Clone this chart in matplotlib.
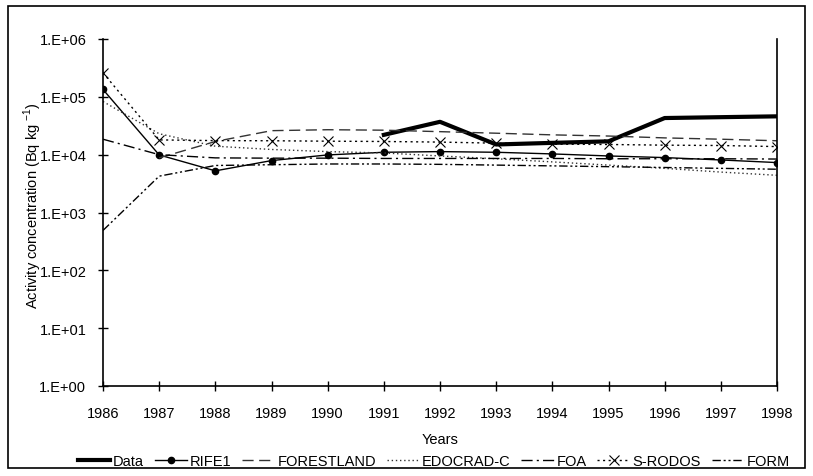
import numpy as np
import matplotlib
matplotlib.use("Agg")
import matplotlib.pyplot as plt
from matplotlib.patches import Rectangle
from matplotlib.ticker import FixedLocator, FuncFormatter, NullLocator

plt.rcParams['font.family'] = ['Liberation Sans', 'DejaVu Sans']
plt.rcParams['mathtext.fontset'] = 'custom'
plt.rcParams['mathtext.rm'] = 'Liberation Sans'

years = list(range(1986, 1999))
nan = np.nan

# activity concentration, Bq/kg
data = [nan, nan, nan, nan, nan, 2.2e4, 3.7e4, 1.5e4, 1.6e4, 1.7e4, 4.3e4, 4.45e4, 4.6e4]
rife1 = [1.34e5, 9.9e3, 5.25e3, 7.9e3, 9.9e3, 1.1e4, 1.13e4, 1.1e4, 1.03e4, 9.5e3, 8.9e3, 8.1e3, 7.3e3]
forestland = [nan, 8.8e3, 1.69e4, 2.6e4, 2.7e4, 2.65e4, 2.5e4, 2.35e4, 2.2e4, 2.1e4, 1.95e4, 1.85e4, 1.74e4]
edocrad = [8.3e4, 2.3e4, 1.4e4, 1.23e4, 1.13e4, 1.07e4, 9.5e3, 8.5e3, 7.5e3, 6.6e3, 5.8e3, 5.0e3, 4.4e3]
foa = [1.85e4, 1.0e4, 8.8e3, 8.7e3, 8.7e3, 8.6e3, 8.6e3, 8.6e3, 8.6e3, 8.5e3, 8.5e3, 8.5e3, 8.4e3]
srodos = [2.6e5, 1.8e4, 1.75e4, 1.74e4, 1.71e4, 1.69e4, 1.65e4, 1.58e4, 1.52e4, 1.5e4, 1.46e4, 1.44e4, 1.38e4]
form = [4.9e2, 4.25e3, 6.5e3, 6.7e3, 6.9e3, 6.9e3, 6.8e3, 6.6e3, 6.4e3, 6.2e3, 6.0e3, 5.8e3, 5.6e3]

fig = plt.figure(figsize=(8.13, 4.77), dpi=100)
fig.patches.append(Rectangle((8 / 813, 1 - 469 / 477), 797 / 813, 462 / 477,
                             transform=fig.transFigure, fill=False,
                             edgecolor='black', linewidth=1.2))
ax = fig.add_axes([103 / 813, 1 - 387 / 477, 674 / 813, 347 / 477])

ax.plot(years, data, color='black', lw=3, label='Data')
ax.plot(years, rife1, color='black', lw=1, marker='o', ms=4.5, label='RIFE1')
ax.plot(years, forestland, color='#333333', lw=1, dashes=(8, 4), label='FORESTLAND')
ax.plot(years, edocrad, color='#333333', lw=1, dashes=(1, 2), label='EDOCRAD-C')
ax.plot(years, foa, color='black', lw=1, dashes=(8, 3, 1.5, 3), label='FOA')
ax.plot(years, srodos, color='black', lw=1, dashes=(1.5, 2.5), marker='x', ms=7,
        mew=0.8, label='S-RODOS')
ax.plot(years, form, color='black', lw=1, dashes=(6, 2, 1.5, 2, 1.5, 2), label='FORM')

ax.set_yscale('log')
ax.set_ylim(1, 1e6)
ax.set_xlim(1986, 1998)
ax.yaxis.set_major_locator(FixedLocator([10.0 ** e for e in range(7)]))
ax.yaxis.set_minor_locator(NullLocator())
ax.yaxis.set_major_formatter(FuncFormatter(lambda v, p: '1.E+%02d' % round(np.log10(v))))
ax.set_xticks(years)

ax.spines['top'].set_visible(False)
for s in ['left', 'bottom', 'right']:
    ax.spines[s].set_linewidth(1.2)
ax.tick_params(axis='both', direction='inout', length=7, width=1, labelsize=10.5)
ax.tick_params(axis='x', pad=11)
ax.tick_params(axis='y', pad=8.5, right=False)

ax.set_xlabel('Years', fontsize=10.5)
ax.xaxis.set_label_coords(0.5, -0.133)
ax.set_ylabel('Activity concentration (Bq kg $^{-1}$)', fontsize=10.5)
ax.yaxis.set_label_coords(-0.088, 0.524)

ax.legend(loc='center', bbox_to_anchor=(0.491, -0.216), ncol=7, frameon=False,
          fontsize=10.5, handlelength=2.2, handletextpad=0.2, columnspacing=0.75,
          borderaxespad=0, borderpad=0)

fig.savefig('out.png', dpi=100)
